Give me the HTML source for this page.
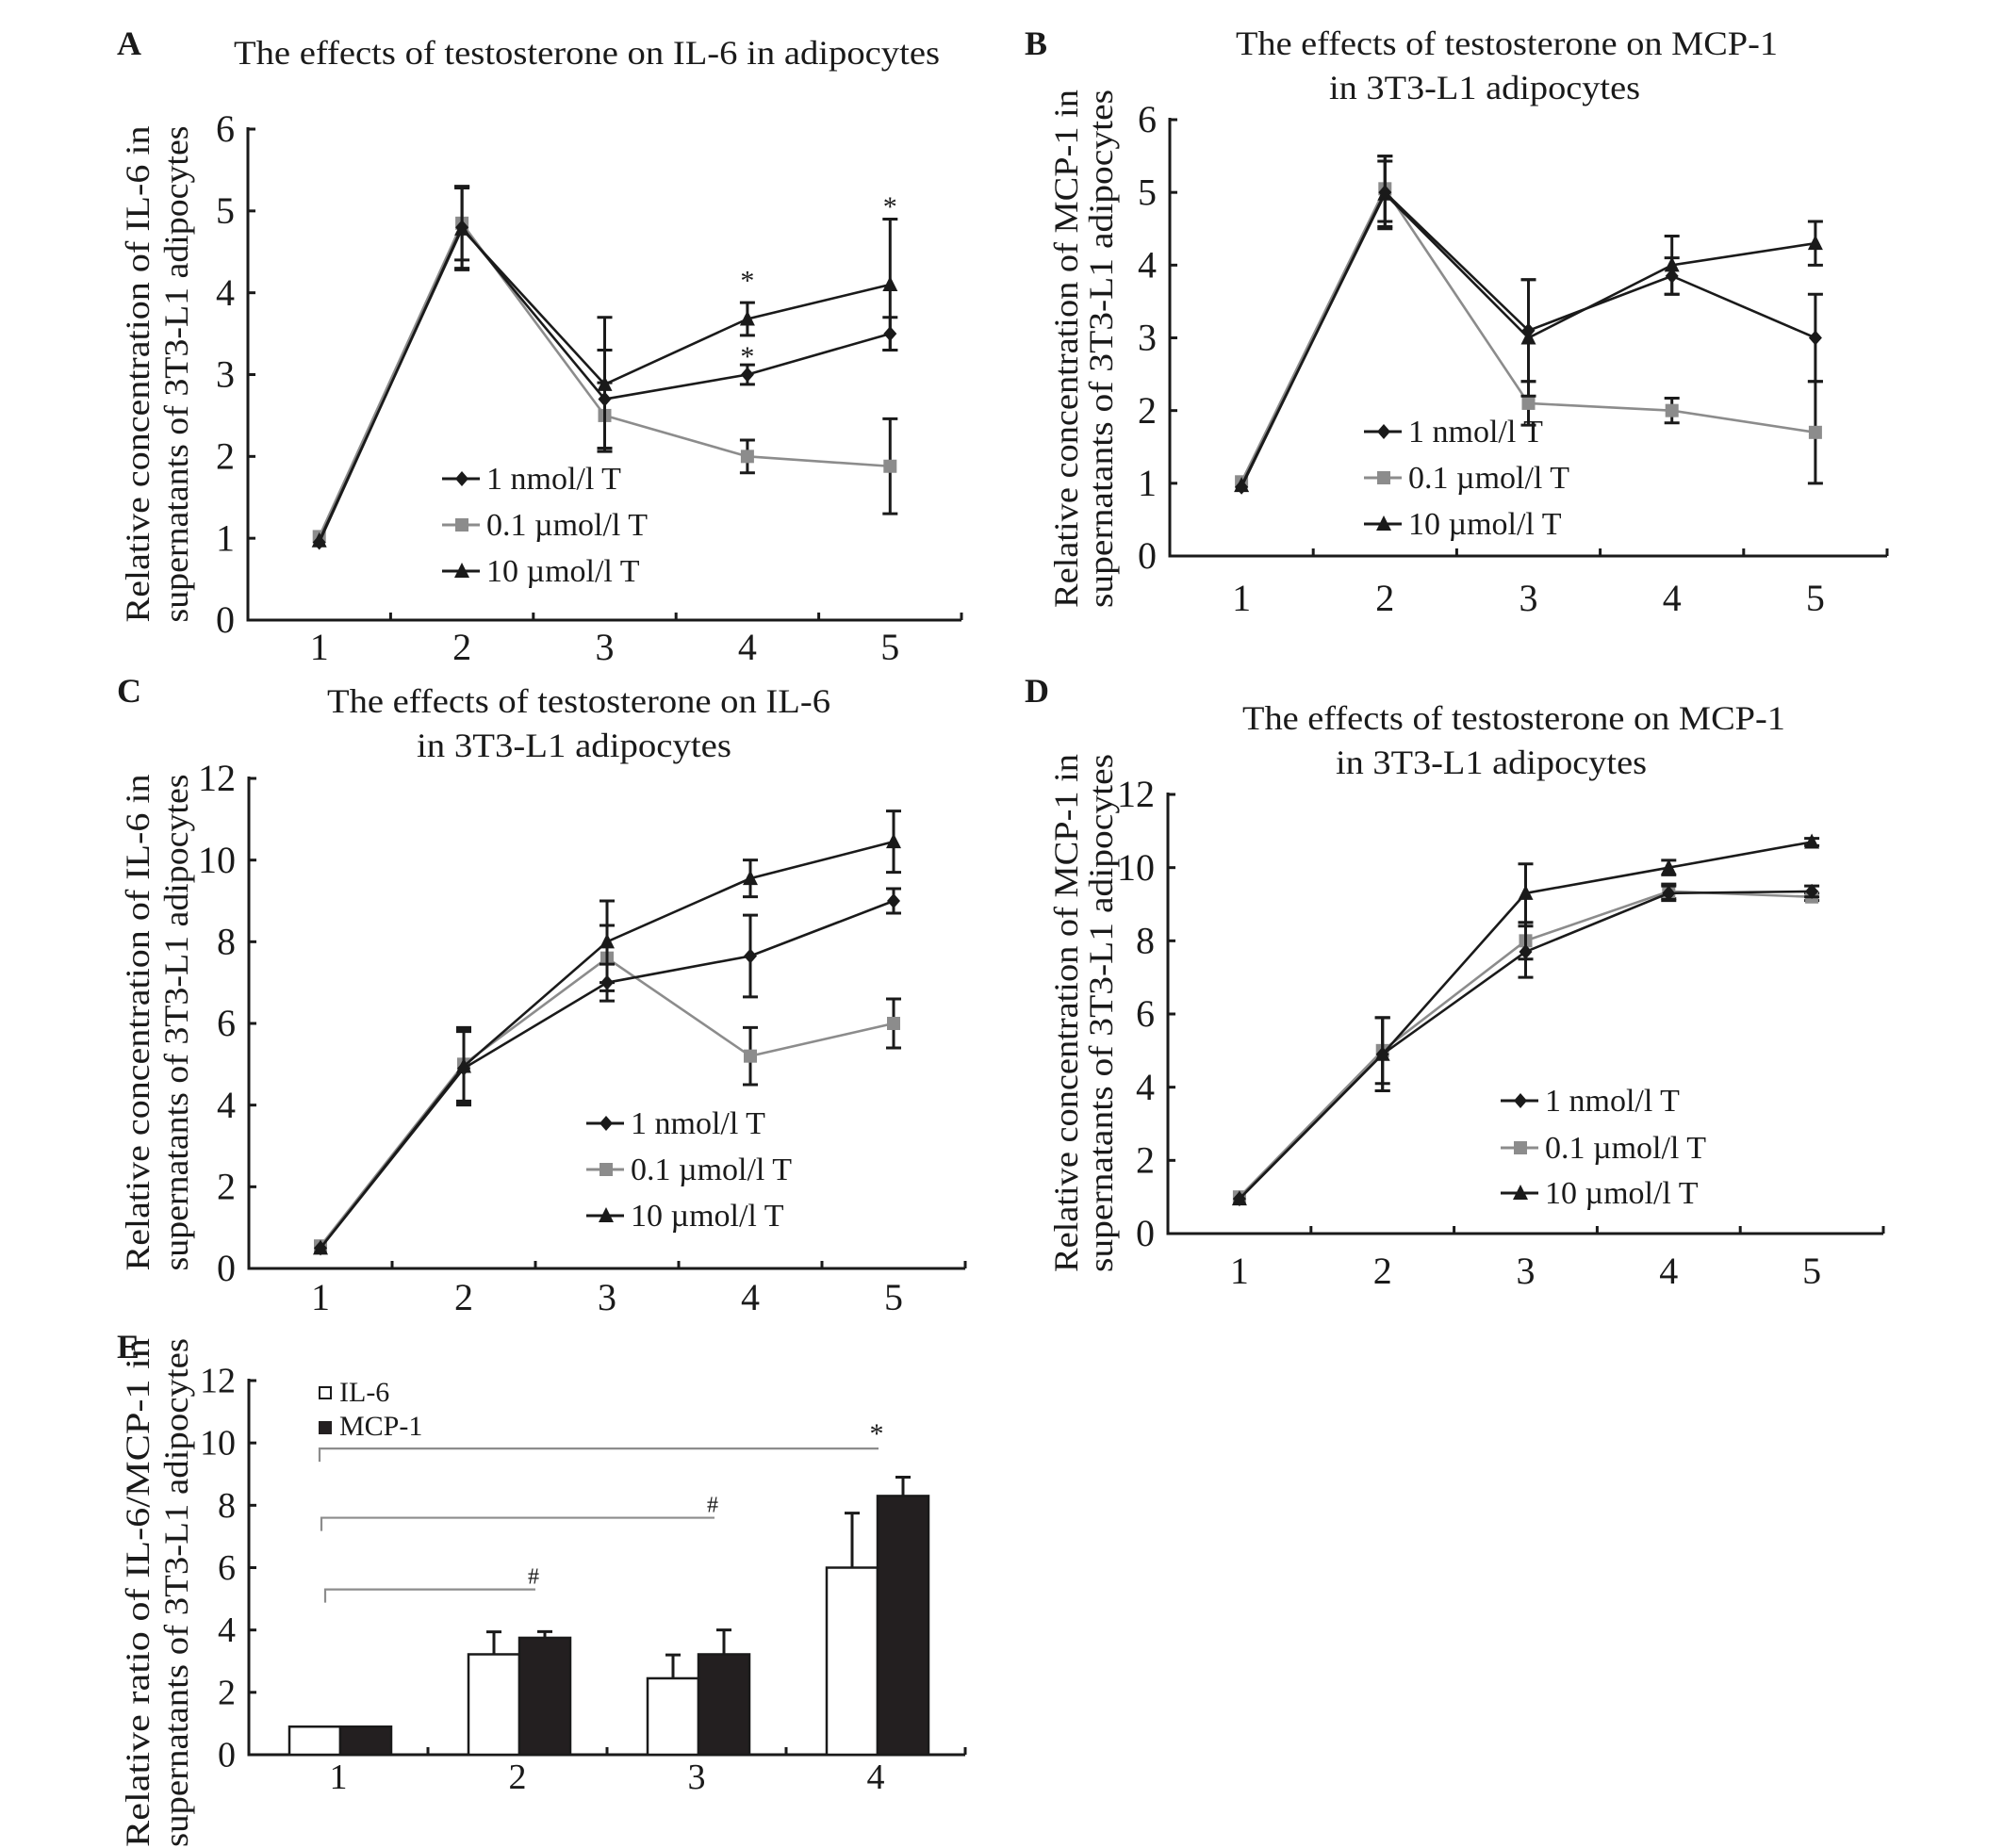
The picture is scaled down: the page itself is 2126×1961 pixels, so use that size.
<!DOCTYPE html>
<html><head><meta charset="utf-8"><style>
html,body{margin:0;padding:0;background:#fff}
svg{display:block}
text{font-family:"Liberation Serif",serif;fill:#1a1a1a}
</style></head><body>
<svg id="fig" xmlns="http://www.w3.org/2000/svg" width="2126" height="1961" viewBox="0 0 2126 1961">
<rect width="2126" height="1961" fill="#fff"/>
<g id="root"></g>
</svg>
<script>
// ---- data ----
const categories = [1, 2, 3, 4, 5];
const seriesNames = ["1 nmol/l T", "0.1 µmol/l T", "10 µmol/l T"];
// Panel A: IL-6
const a1n = [0.95, 4.8, 2.7, 3.0, 3.5];
const a1nErr = [0.05, 0.5, 0.6, 0.12, 0.2];
const a01 = [1.02, 4.85, 2.5, 2.0, 1.88];
const a01Err = [0.05, 0.45, 0.4, 0.2, 0.58];
const a10 = [0.97, 4.78, 2.88, 3.68, 4.1];
const a10Err = [0.05, 0.5, 0.82, 0.2, 0.8];
const aTicks = [0, 1, 2, 3, 4, 5, 6];
// Panel B: MCP-1
const b1n = [0.95, 5.0, 3.1, 3.85, 3.0];
const b1nErr = [0.05, 0.5, 0.7, 0.25, 0.6];
const b01 = [1.02, 5.05, 2.1, 2.0, 1.7];
const b01Err = [0.05, 0.45, 0.3, 0.17, 0.7];
const b10 = [0.97, 4.98, 3.0, 4.0, 4.3];
const b10Err = [0.05, 0.45, 0.8, 0.4, 0.3];
const bTicks = [0, 1, 2, 3, 4, 5, 6];
// Panel C: IL-6
const c1n = [0.5, 4.9, 7.0, 7.65, 9.0];
const c1nErr = [0.05, 0.9, 0.45, 1.0, 0.3];
const c01 = [0.55, 5.0, 7.6, 5.2, 6.0];
const c01Err = [0.05, 0.9, 0.8, 0.7, 0.6];
const c10 = [0.5, 4.95, 8.0, 9.55, 10.45];
const c10Err = [0.05, 0.9, 1.0, 0.45, 0.75];
const cTicks = [0, 2, 4, 6, 8, 10, 12];
// Panel D: MCP-1
const d1n = [0.95, 4.9, 7.7, 9.3, 9.35];
const d1nErr = [0.05, 1.0, 0.7, 0.2, 0.15];
const d01 = [1.0, 5.0, 8.0, 9.35, 9.2];
const d01Err = [0.05, 0.9, 0.5, 0.2, 0.1];
const d10 = [0.95, 4.9, 9.3, 10.0, 10.7];
const d10Err = [0.05, 1.0, 0.8, 0.2, 0.1];
const dTicks = [0, 2, 4, 6, 8, 10, 12];
// Panel E: ratio bars
const eCategories = [1, 2, 3, 4];
const eIL6 = [0.9, 3.22, 2.45, 6.0];
const eIL6Err = [0, 0.72, 0.75, 1.75];
const eMCP = [0.9, 3.75, 3.22, 8.3];
const eMCPErr = [0, 0.2, 0.78, 0.6];
const eTicks = [0, 2, 4, 6, 8, 10, 12];

const NS = "http://www.w3.org/2000/svg";
const root = document.getElementById("root");
function mk(tag, attrs, parent) {
  const el = document.createElementNS(NS, tag);
  for (const k in attrs) el.setAttribute(k, attrs[k]);
  (parent || root).appendChild(el);
  return el;
}
function txt(s, attrs, parent) { const t = mk("text", attrs, parent); t.textContent = s; return t; }

function axes(g, cfg, ticks, ncat, labels, fs) {
  const ax = mk("path", {d: `M${cfg.x0} ${cfg.yt - 2} L${cfg.x0} ${cfg.y0} L${cfg.x1} ${cfg.y0}`, stroke: "#1a1a1a", "stroke-width": 3, fill: "none"}, g);
  
  
  const ymax = ticks[ticks.length - 1];
  const sy = v => cfg.y0 - v / ymax * (cfg.y0 - cfg.yt);
  ticks.forEach(t => {
    const y = sy(t);
    const tk = mk("line", {x1: cfg.x0, x2: cfg.x0 + 8, y1: y, y2: y, stroke: "#1a1a1a", "stroke-width": 3}, g);
    
    
    const lb = txt(String(t), {x: cfg.x0 - 14, y: y + fs * 0.33, "font-size": fs, "text-anchor": "end"}, g);
    
    
  });
  const w = (cfg.x1 - cfg.x0) / ncat;
  for (let i = 1; i <= ncat; i++) {
    const x = cfg.x0 + i * w;
    const tk = mk("line", {x1: x, x2: x, y1: cfg.y0, y2: cfg.y0 - 8, stroke: "#1a1a1a", "stroke-width": 3}, g);
    
    
  }
  labels.forEach((c, i) => {
    const lb = txt(String(c), {x: cfg.x0 + (i + 0.5) * w, y: cfg.xly, "font-size": fs, "text-anchor": "middle"}, g);
    
    
  });
  return {sy, sx: i => cfg.x0 + (i + 0.5) * w, w};
}

function marker(g, type, x, y, color) {
  let m;
  if (type === 0) m = mk("polygon", {points: `${x},${y-8} ${x+7},${y} ${x},${y+8} ${x-7},${y}`, fill: color}, g);
  else if (type === 1) m = mk("rect", {x: x - 7, y: y - 7, width: 14, height: 14, fill: color}, g);
  else m = mk("polygon", {points: `${x},${y-9} ${x+8},${y+7} ${x-8},${y+7}`, fill: color}, g);
  return m;
}

function lineSeries(g, sc, vals, errs, type, color, name) {
  const sg = mk("g", {}, g);
  
  
  errs.forEach((e, i) => {
    if (e <= 0.06) return;
    const x = sc.sx(i), yt = sc.sy(vals[i] + e), yb = sc.sy(vals[i] - e);
    const eb = mk("path", {d: `M${x} ${yt} L${x} ${yb} M${x-8} ${yt} L${x+8} ${yt} M${x-8} ${yb} L${x+8} ${yb}`, stroke: "#1a1a1a", "stroke-width": 3, fill: "none"}, sg);
    
    
  });
  const pts = vals.map((v, i) => `${sc.sx(i)},${sc.sy(v)}`).join(" ");
  const pl = mk("polyline", {points: pts, stroke: color, "stroke-width": 2.6, fill: "none"}, sg);
  
  
  vals.forEach((v, i) => {
    const m = marker(sg, type, sc.sx(i), sc.sy(v), color);
    
    
  });
}

function legend(g, x, ys, fs) {
  const colors = ["#1a1a1a", "#8c8c8c", "#1a1a1a"];
  seriesNames.forEach((n, i) => {
    const lg = mk("g", {}, g);
    
    
    mk("line", {x1: x, x2: x + 40, y1: ys[i], y2: ys[i], stroke: colors[i], "stroke-width": 3}, lg);
    marker(lg, i, x + 21, ys[i], colors[i]);
    txt(n, {x: x + 47, y: ys[i] + 11, "font-size": fs}, lg);
  });
}

function yTitle(g, cx1, cx2, cy, l1, l2, len) {
  const t1 = txt(l1, {x: 0, y: 0, "font-size": 36, "text-anchor": "middle", textLength: len, lengthAdjust: "spacingAndGlyphs", transform: `translate(${cx1 + 12},${cy}) rotate(-90)`}, g);
  
  
  const t2 = txt(l2, {x: 0, y: 0, "font-size": 36, "text-anchor": "middle", textLength: len, lengthAdjust: "spacingAndGlyphs", transform: `translate(${cx2 + 12},${cy}) rotate(-90)`}, g);
  
  
}

function title(g, lines, letter, lx, ly) {
  lines.forEach(l => {
    const t = txt(l.s, {x: l.x, y: l.y, "font-size": 36, textLength: l.w, lengthAdjust: "spacingAndGlyphs"}, g);
    
    
  });
  const pl = txt(letter, {x: lx, y: ly, "font-size": 36, "font-weight": "bold"}, g);
  
  
}

function star(g, sc, i, v, s) {
  const t = txt(s, {x: sc.sx(i), y: sc.sy(v) + 14, "font-size": 30, "text-anchor": "middle"}, g);
  
  
}

function linePanel(name, cfg, ticks, s1, e1, s2, e2, s3, e3) {
  const g = mk("g", {});
  
  
  const sc = axes(g, cfg, ticks, categories.length, categories, 40);
  lineSeries(g, sc, s2, e2, 1, "#8c8c8c", "series-0-1-umol");
  lineSeries(g, sc, s1, e1, 0, "#1a1a1a", "series-1-nmol");
  lineSeries(g, sc, s3, e3, 2, "#1a1a1a", "series-10-umol");
  return {g, sc};
}

// Panel A
const A = linePanel("panel-a", {x0: 263, x1: 1020, y0: 658, yt: 137, xly: 700}, aTicks, a1n, a1nErr, a01, a01Err, a10, a10Err);
title(A.g, [{s: "The effects of testosterone on IL-6 in adipocytes", x: 248, y: 68, w: 749}], "A", 124, 58);
yTitle(A.g, 146, 187, 397, "Relative concentration of IL-6 in", "supernatants of 3T3-L1 adipocytes", 527);
legend(A.g, 469, [508, 557, 606], 34);
star(A.g, A.sc, 3, 4.2, "*");
star(A.g, A.sc, 3, 3.27, "*");
star(A.g, A.sc, 4, 5.1, "*");

// Panel B
const B = linePanel("panel-b", {x0: 1241, x1: 2002, y0: 590, yt: 127, xly: 648}, bTicks, b1n, b1nErr, b01, b01Err, b10, b10Err);
title(B.g, [{s: "The effects of testosterone on MCP-1", x: 1311, y: 58, w: 575}, {s: "in 3T3-L1 adipocytes", x: 1410, y: 105, w: 330}], "B", 1087, 58);
yTitle(B.g, 1131, 1168, 370, "Relative concentration of MCP-1 in", "supernatants of 3T3-L1 adipocytes", 550);
legend(B.g, 1447, [458, 507, 556], 34);

// Panel C
const C = linePanel("panel-c", {x0: 264, x1: 1024, y0: 1346, yt: 826, xly: 1390}, cTicks, c1n, c1nErr, c01, c01Err, c10, c10Err);
title(C.g, [{s: "The effects of testosterone on IL-6", x: 347, y: 756, w: 534}, {s: "in 3T3-L1 adipocytes", x: 442, y: 803, w: 334}], "C", 124, 745);
yTitle(C.g, 146, 187, 1085, "Relative concentration of IL-6 in", "supernatants of 3T3-L1 adipocytes", 527);
legend(C.g, 622, [1192, 1241, 1290], 34);

// Panel D
const D = linePanel("panel-d", {x0: 1239, x1: 1998, y0: 1309, yt: 843, xly: 1362}, dTicks, d1n, d1nErr, d01, d01Err, d10, d10Err);
title(D.g, [{s: "The effects of testosterone on MCP-1", x: 1318, y: 774, w: 576}, {s: "in 3T3-L1 adipocytes", x: 1417, y: 821, w: 330}], "D", 1087, 745);
yTitle(D.g, 1131, 1168, 1075, "Relative concentration of MCP-1 in", "supernatants of 3T3-L1 adipocytes", 550);
legend(D.g, 1592, [1168, 1218, 1266], 34);

// Panel E
(function () {
  const g = mk("g", {});
  
  
  const cfg = {x0: 264, x1: 1024, y0: 1862, yt: 1465, xly: 1898};
  const sc = axes(g, cfg, eTicks, eCategories.length, eCategories, 38);
  const bw = 54;
  function bar(i, v, e, dx, fill, name) {
    const x = sc.sx(i) + 2 + dx;
    const y = sc.sy(v);
    if (e > 0) {
      const ey = sc.sy(v + e);
      const eb = mk("path", {d: `M${x + bw/2} ${y} L${x + bw/2} ${ey} M${x + bw/2 - 8} ${ey} L${x + bw/2 + 8} ${ey}`, stroke: "#1a1a1a", "stroke-width": 3, fill: "none"}, g);
      
      
    }
    const r = mk("rect", {x: x, y: y, width: bw, height: cfg.y0 - y, fill: fill, stroke: "#1a1a1a", "stroke-width": 2.5}, g);
    
    
  }
  eCategories.forEach((c, i) => {
    bar(i, eIL6[i], eIL6Err[i], -bw, "#fff", "bar-il6-" + c);
    bar(i, eMCP[i], eMCPErr[i], 0, "#231f20", "bar-mcp1-" + c);
  });
  // significance brackets
  const brk = [[9.82, 339, 932, "*"], [7.6, 341, 758, "#"], [5.3, 345, 568, "#"]];
  brk.forEach(b => {
    const y = sc.sy(b[0]);
    const p = mk("path", {d: `M${b[1]} ${y + 14} L${b[1]} ${y} L${b[2]} ${y}`, stroke: "#8c8c8c", "stroke-width": 2.2, fill: "none"}, g);
    
    
    const t = txt(b[3], {x: b[2] - 2, y: y - 6, "font-size": b[3] === "*" ? 30 : 24, "text-anchor": "middle"}, g);
    
    
  });
  // legend
  const l1 = mk("g", {}, g);
  
  
  mk("rect", {x: 339, y: 1472, width: 12, height: 12, fill: "#fff", stroke: "#1a1a1a", "stroke-width": 2}, l1);
  txt("IL-6", {x: 360, y: 1487, "font-size": 30}, l1);
  const l2 = mk("g", {}, g);
  
  
  mk("rect", {x: 338, y: 1508, width: 14, height: 14, fill: "#231f20"}, l2);
  txt("MCP-1", {x: 360, y: 1523, "font-size": 30}, l2);
  title(g, [], "E", 124, 1441);
  yTitle(g, 146, 187, 1690, "Relative ratio of IL-6/MCP-1 in", "supernatants of 3T3-L1 adipocytes", 540);
})();
</script>
</body></html>
